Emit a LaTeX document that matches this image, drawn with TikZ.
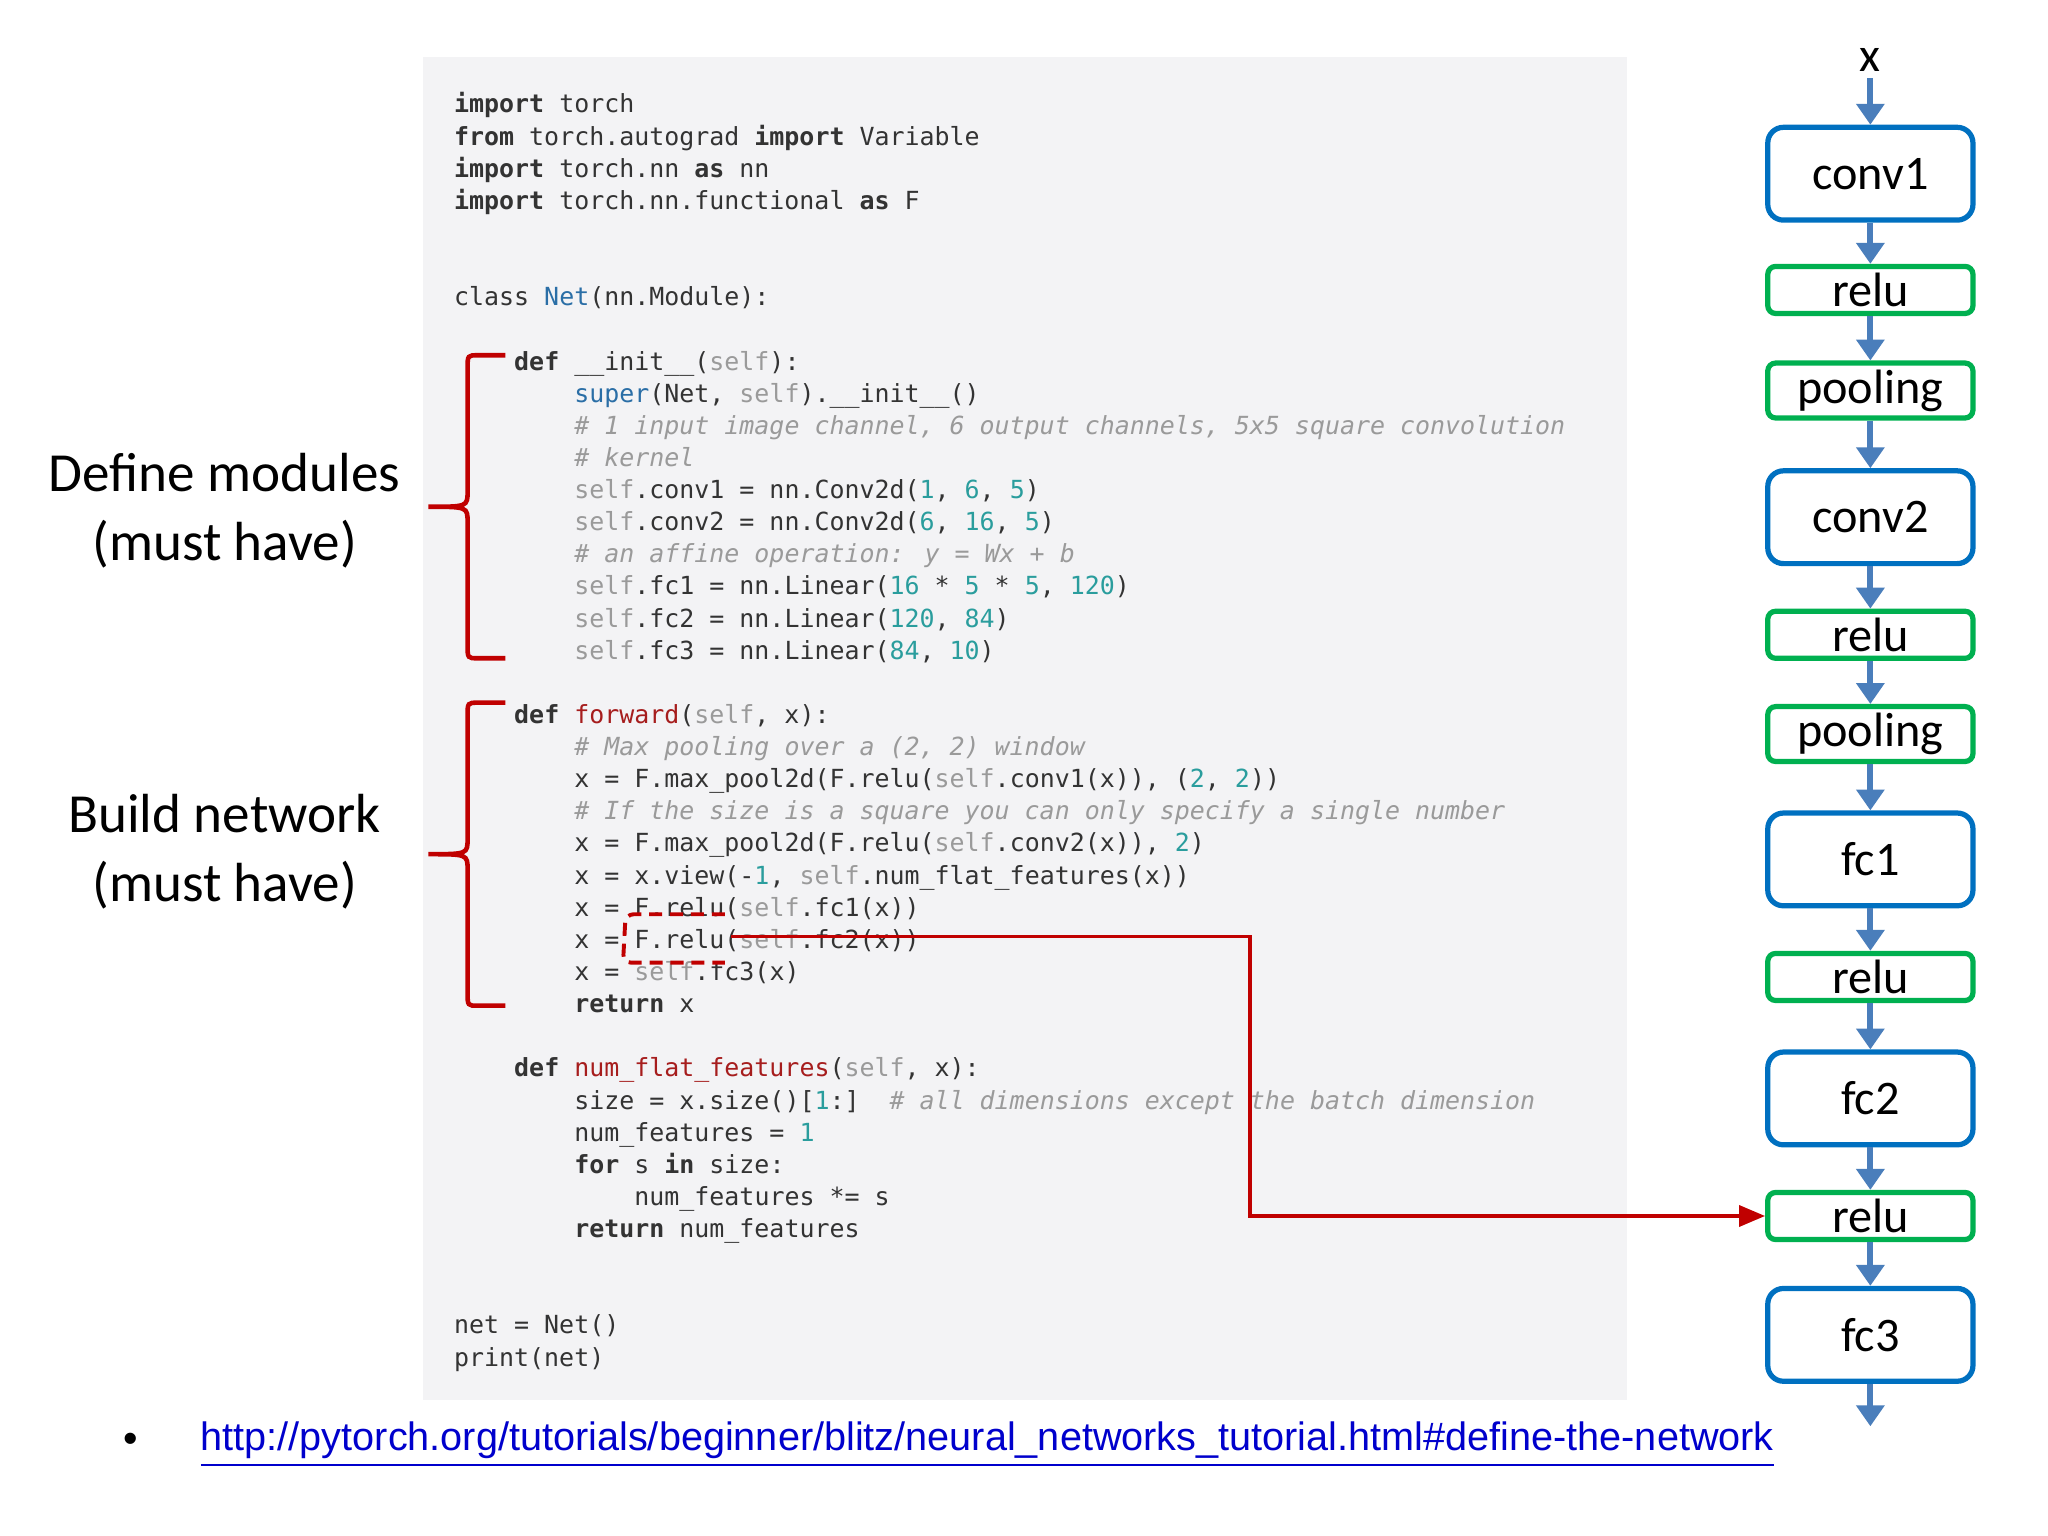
\documentclass[tikz,border=0pt]{standalone}
\usepackage{fontspec}
\setmainfont{Carlito}
\newfontfamily\codefont{DejaVu Sans Mono}
\newfontfamily\urlfont{Liberation Sans}
\usetikzlibrary{arrows.meta}
\definecolor{codebg}{HTML}{F3F3F5}
\definecolor{codetx}{HTML}{333333}
\definecolor{codegr}{HTML}{9A9A9A}
\definecolor{codenum}{HTML}{2A9D9D}
\definecolor{codefn}{HTML}{A61D1D}
\definecolor{codecls}{HTML}{2A6EA6}
\definecolor{boxblue}{HTML}{0070C0}
\definecolor{boxgreen}{HTML}{00B050}
\definecolor{flowblue}{HTML}{4A7EBB}
\definecolor{hlred}{HTML}{C00000}
\newcommand{\kw}[1]{\textbf{#1}}
\newcommand{\sv}[1]{\textcolor{codegr}{#1}}
\newcommand{\nm}[1]{\textcolor{codenum}{#1}}
\newcommand{\cm}[1]{\textcolor{codegr}{\itshape #1}}
\newcommand{\fn}[1]{\textcolor{codefn}{#1}}
\newcommand{\cl}[1]{\textcolor{codecls}{#1}}
\tikzset{
  code/.style={anchor=base west, inner sep=0pt, text=codetx,
    font=\codefont\fontsize{5.43}{6}\selectfont},
  layer/.style={draw=boxblue, line width=0.04cm, rounded corners=0.12cm,
    minimum width=1.57cm, minimum height=0.71cm, inner sep=0pt,
    font=\fontsize{10.5}{12}\selectfont},
  act/.style={draw=boxgreen, line width=0.04cm, rounded corners=0.06cm,
    minimum width=1.57cm, minimum height=0.36cm, inner sep=0pt,
    font=\fontsize{10.5}{12}\selectfont},
  flow/.style={flowblue, line width=0.045cm,
    -{Triangle[width=0.21cm,length=0.16cm]}},
  side/.style={align=center, font=\fontsize{12}{15}\selectfont},
  brace/.style={hlred, line width=0.035cm}
}
\begin{document}
\begin{tikzpicture}[x=0.01cm, y=-0.01cm]
  \useasboundingbox (0,0) rectangle (1568,1176);
  % code panel
  \fill [codebg] (324,44) rectangle (1246,1072);
  \def\ln#1#2#3{\node [code] at ({347+11.5*#1},{86.5+24.6*#2}) {#3};}
  \ln{0}{0}{\kw{import} torch}
  \ln{0}{1}{\kw{from} torch.autograd \kw{import} Variable}
  \ln{0}{2}{\kw{import} torch.nn \kw{as} nn}
  \ln{0}{3}{\kw{import} torch.nn.functional \kw{as} F}
  \ln{0}{6}{class \cl{Net}(nn.Module):}
  \ln{4}{8}{\kw{def} \_\_init\_\_(\sv{self}):}
  \ln{8}{9}{\cl{super}(Net, \sv{self}).\_\_init\_\_()}
  \ln{8}{10}{\cm{\# 1 input image channel, 6 output channels, 5x5 square convolution}}
  \ln{8}{11}{\cm{\# kernel}}
  \ln{8}{12}{\sv{self}.conv1 = nn.Conv2d(\nm{1}, \nm{6}, \nm{5})}
  \ln{8}{13}{\sv{self}.conv2 = nn.Conv2d(\nm{6}, \nm{16}, \nm{5})}
  \ln{8}{14}{\cm{\# an affine operation: y = Wx + b}}
  \ln{8}{15}{\sv{self}.fc1 = nn.Linear(\nm{16} * \nm{5} * \nm{5}, \nm{120})}
  \ln{8}{16}{\sv{self}.fc2 = nn.Linear(\nm{120}, \nm{84})}
  \ln{8}{17}{\sv{self}.fc3 = nn.Linear(\nm{84}, \nm{10})}
  \ln{4}{19}{\kw{def} \fn{forward}(\sv{self}, x):}
  \ln{8}{20}{\cm{\# Max pooling over a (2, 2) window}}
  \ln{8}{21}{x = F.max\_pool2d(F.relu(\sv{self}.conv1(x)), (\nm{2}, \nm{2}))}
  \ln{8}{22}{\cm{\# If the size is a square you can only specify a single number}}
  \ln{8}{23}{x = F.max\_pool2d(F.relu(\sv{self}.conv2(x)), \nm{2})}
  \ln{8}{24}{x = x.view(-\nm{1}, \sv{self}.num\_flat\_features(x))}
  \ln{8}{25}{x = F.relu(\sv{self}.fc1(x))}
  \ln{8}{26}{x = F.relu(\sv{self}.fc2(x))}
  \ln{8}{27}{x = \sv{self}.fc3(x)}
  \ln{8}{28}{\kw{return} x}
  \ln{4}{30}{\kw{def} \fn{num\_flat\_features}(\sv{self}, x):}
  \ln{8}{31}{size = x.size()[\nm{1}:]~~\cm{\# all dimensions except the batch dimension}}
  \ln{8}{32}{num\_features = \nm{1}}
  \ln{8}{33}{\kw{for} s \kw{in} size:}
  \ln{12}{34}{num\_features *= s}
  \ln{8}{35}{\kw{return} num\_features}
  \ln{0}{38}{net = Net()}
  \ln{0}{39}{print(net)}
  % braces
  \draw [brace] (387,272) -- (366,272) .. controls (358,272) .. (358,282)
    -- (358,376) .. controls (358,388) .. (328,388)
    .. controls (358,388) .. (358,400) -- (358,494)
    .. controls (358,504) .. (366,504) -- (387,504);
  \draw [brace] (387,538) -- (366,538) .. controls (358,538) .. (358,548)
    -- (358,642) .. controls (358,654) .. (328,654)
    .. controls (358,654) .. (358,666) -- (358,760)
    .. controls (358,770) .. (366,770) -- (387,770);
  \node [side] (defmod) at (172,391) {Define modules\\(must have)};
  \node [side] (build) at (172,652) {Build network\\(must have)};
  % network
  \node (in) at (1432,46) {\fontsize{10.5}{12}\selectfont x};
  \node [layer] (conv1) at (1432,133) {conv1};
  \node [act] (relu1) at (1432,222) {relu};
  \node [act, minimum height=0.42cm] (pool1) at (1432,299) {pooling};
  \node [layer] (conv2) at (1432,396) {conv2};
  \node [act] (relu2) at (1432,486) {relu};
  \node [act, minimum height=0.42cm] (pool2) at (1432,562) {pooling};
  \node [layer] (fc1) at (1432,658) {fc1};
  \node [act] (relu3) at (1432,748) {relu};
  \node [layer] (fc2) at (1432,841) {fc2};
  \node [act] (relu4) at (1432,931) {relu};
  \node [layer] (fc3) at (1432,1022) {fc3};
  \coordinate (out) at (1432,1092);
  \draw [flow] (1432,60) -- (conv1);
  \foreach \a/\b in {conv1/relu1, relu1/pool1, pool1/conv2, conv2/relu2,
    relu2/pool2, pool2/fc1, fc1/relu3, relu3/fc2, fc2/relu4, relu4/fc3, fc3/out}
    \draw [flow] (\a) -- (\b);
  % highlight
  \draw [hlred, line width=0.03cm, dashed, dash pattern=on 0.1cm off 0.06cm,
    rounded corners=0.06cm] (555,700) -- (479,700) -- (477,737) -- (555,737);
  \coordinate (hl) at (560,717);
  \draw [hlred, line width=0.03cm, -{Triangle[width=0.16cm,length=0.2cm]}]
    (hl) -- (957,717) -- (957,931) -- (relu4.west);
  % reference
  \node (bul) at (100,1105) {\urlfont\fontsize{9}{11}\selectfont\textbullet};
  \node [anchor=west, inner sep=0pt, text=blue!80!black] (url) at (153,1106)
    {\urlfont\fontsize{8.63}{11}\selectfont\underline{http://pytorch.org/tutorials/beginner/blitz/neural\_networks\_tutorial.html\#define-the-network}};
\end{tikzpicture}
\end{document}
